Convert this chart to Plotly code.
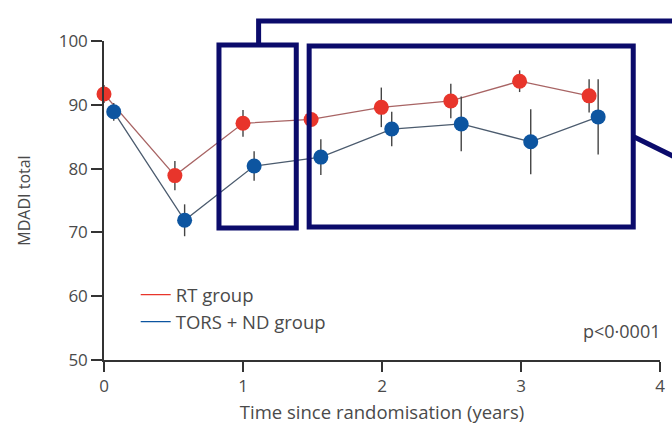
import plotly.graph_objects as go

# ---- data ----
rt_time = [0.0, 0.51, 1.0, 1.49, 1.995, 2.495, 2.99, 3.49]
rt_mdadi = [91.7, 78.9, 87.1, 87.7, 89.6, 90.6, 93.7, 91.4]
rt_err = [1.4, 2.3, 2.1, 1.0, 3.1, 2.7, 1.7, 2.6]

tors_time = [0.07, 0.58, 1.08, 1.56, 2.07, 2.57, 3.07, 3.555]
tors_mdadi = [88.9, 71.9, 80.4, 81.8, 86.2, 87.0, 84.2, 88.1]
tors_err = [1.4, 2.5, 2.3, 2.8, 2.7, 4.3, 5.1, 5.9]

x_ticks = [0, 1, 2, 3, 4]
y_ticks = [50, 60, 70, 80, 90, 100]

RED = "#e8352b"
BLUE = "#0d55a0"
NAVY = "#0b0b6b"
TXT = "#4a4a4a"
FONT = "Open Sans, Liberation Sans, Arial, sans-serif"

W, H = 672, 432
ML, MR, MT, MB = 104, 7, 41, 72
PW, PH = W - ML - MR, H - MT - MB


def px(x):
    return (x - ML) / PW


def py(y):
    return (H - MB - y) / PH


fig = go.Figure()

for t, v, e, col, lcol in [
    (rt_time, rt_mdadi, rt_err, RED, "#a86464"),
    (tors_time, tors_mdadi, tors_err, BLUE, "#4b5b6e"),
]:
    fig.add_trace(go.Scatter(
        x=t, y=v, mode="lines+markers",
        line=dict(color=lcol, width=1.3),
        marker=dict(color=col, size=15),
        error_y=dict(type="data", array=e, color="#444", thickness=1.4, width=0),
        showlegend=False, cliponaxis=False,
    ))

fig.add_trace(go.Scatter(x=[None], y=[None], mode="lines", name="RT group",
                         line=dict(color=RED, width=1.3)))
fig.add_trace(go.Scatter(x=[None], y=[None], mode="lines", name="TORS + ND group",
                         line=dict(color=BLUE, width=1.3)))

shapes = []
# overlay boxes (annotation frames)
for x0, x1, y0, y1 in [(220, 298, 45, 228), (311, 638, 46, 227)]:
    shapes.append(dict(type="rect", xref="paper", yref="paper",
                       x0=px(x0), x1=px(x1), y0=py(y1), y1=py(y0),
                       line=dict(color=NAVY, width=5)))
shapes.append(dict(type="path", xref="paper", yref="paper",
                   path=f"M {px(260)},{py(45)} L {px(260)},{py(21)} L {px(680)},{py(21)}",
                   line=dict(color=NAVY, width=5)))
shapes.append(dict(type="line", xref="paper", yref="paper",
                   x0=px(639), y0=py(137), x1=px(680), y1=py(157),
                   line=dict(color=NAVY, width=5)))

fig.update_layout(
    width=W, height=H,
    margin=dict(l=ML, r=MR, t=MT, b=MB),
    paper_bgcolor="white", plot_bgcolor="white",
    font=dict(family=FONT, color=TXT, size=17),
    shapes=shapes,
    legend=dict(x=px(136), y=py(276), xanchor="left", yanchor="top",
                font=dict(size=18.5, color=TXT), bgcolor="rgba(0,0,0,0)",
                tracegroupgap=0, itemwidth=30),
    annotations=[dict(text="p<0·0001", xref="paper", yref="paper",
                      x=px(668), y=py(331), xanchor="right", yanchor="middle",
                      showarrow=False, font=dict(size=18, color=TXT))],
)

fig.update_xaxes(range=[0, 4], tickvals=x_ticks, showgrid=False, zeroline=False,
                 showline=True, linecolor="#333", linewidth=1.5,
                 ticks="outside", ticklen=10, tickwidth=1.5, tickcolor="#333",
                 title=dict(text="Time since randomisation (years)", font=dict(size=18.5, color=TXT), standoff=10))
fig.update_yaxes(range=[50, 100], tickvals=y_ticks, showgrid=False, zeroline=False,
                 showline=True, linecolor="#333", linewidth=1.5,
                 ticks="outside", ticklen=11, tickwidth=1.5, tickcolor="#333",
                 title=dict(text="MDADI total", font=dict(size=16, color=TXT), standoff=24))

fig.write_html("out.html")
